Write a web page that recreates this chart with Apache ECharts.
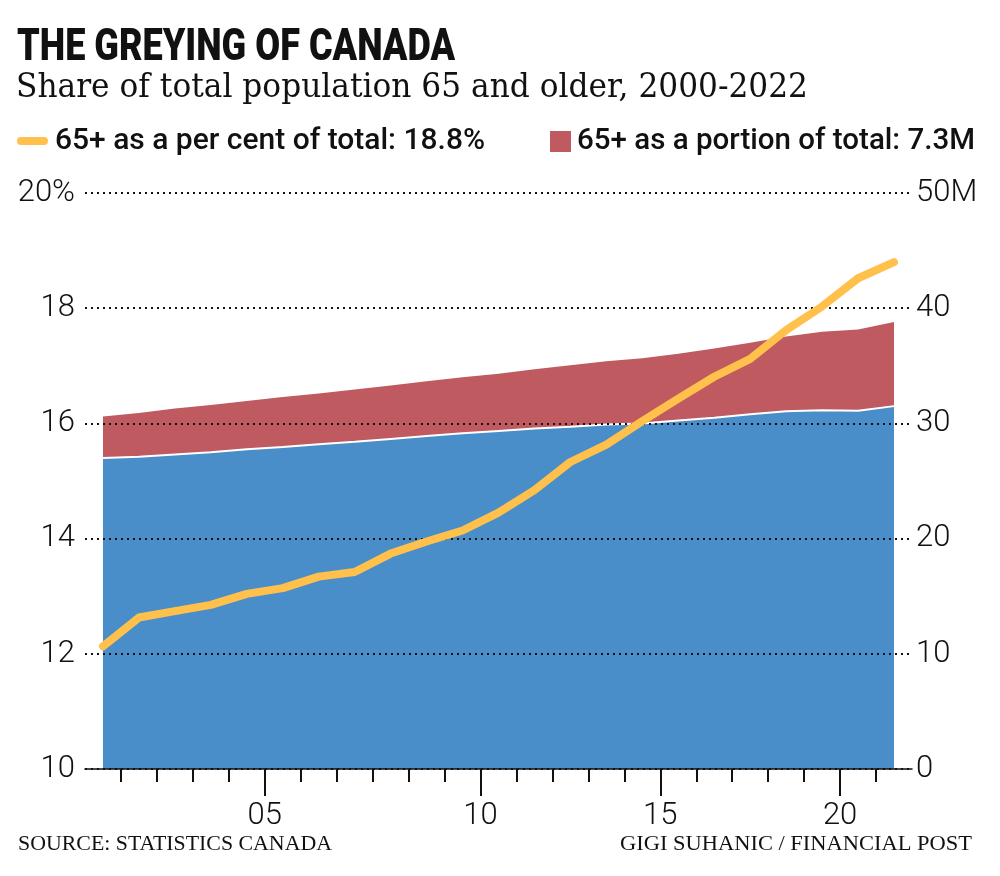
<!DOCTYPE html>
<html>
<head>
<meta charset="utf-8">
<script src="https://cdn.jsdelivr.net/npm/echarts@6/dist/echarts.min.js"></script>
<style>
html,body{margin:0;padding:0;background:#fff;}
#chart{width:1000px;height:876px;}
</style>
</head>
<body>
<div id="chart"></div>
<script>
// ---- data ----
const years = ['2000','2001','2002','2003','2004','2005','2006','2007','2008','2009','2010','2011','2012','2013','2014','2015','2016','2017','2018','2019','2020','2021','2022'];
// 65+ as a per cent of total population (left axis, %)
const pct65 = [12.13,12.63,12.74,12.85,13.04,13.14,13.34,13.42,13.74,13.95,14.14,14.45,14.84,15.33,15.63,16.04,16.43,16.81,17.12,17.62,18.03,18.52,18.80];
// population under 65 (millions, right axis)
const under65 = [27.0,27.1,27.3,27.5,27.75,27.95,28.2,28.4,28.65,28.9,29.15,29.35,29.55,29.7,29.9,30.0,30.25,30.5,30.8,31.05,31.15,31.1,31.5];
// population 65 and older (millions, stacked on top)
const over65 = [3.6,3.8,4.0,4.1,4.2,4.35,4.4,4.55,4.65,4.75,4.85,4.95,5.15,5.35,5.5,5.65,5.8,6.0,6.2,6.5,6.8,7.05,7.3];
// tick marks on the time scale (value axis 2000..2023, one band per year), as placed in the original
const minorTickPos = [2001,2002,2003,2004,2005,2006,2007,2008,2009,2010,2011,2012,2013,2014,2015,2016,2017,2018,2019,2020,2021,2022];
const majorTickPos = [2005,2011,2016,2021];
const xTickLabels = ['05','10','15','20'];

const BLUE = '#4a8ec9', RED = '#be5a60', YELLOW = '#ffc04c';
const LABEL_FONT = 'Roboto';
const SANS = 'Roboto, "Noto Sans", sans-serif';
const SERIF = '"DejaVu Serif","Liberation Serif",serif';

// horizontal squeeze so condensed newspaper type keeps its width
const measureCtx = document.createElement('canvas').getContext('2d');
function fitScale(text, font, width) {
  measureCtx.font = font;
  return width / measureCtx.measureText(text).width;
}
function txt(text, font, x, y, width, align) {
  const s = fitScale(text, font, width);
  return {type: 'text', x: x, y: y, scaleX: s, z: 10,
    style: {text: text, font: font, fill: '#111', align: align || 'left', verticalAlign: 'middle'}};
}

const chart = echarts.init(document.getElementById('chart'), null, {renderer: 'canvas'});
chart.setOption({
  animation: false,
  backgroundColor: '#fff',
  grid: {left: 85, right: 88, top: 193, bottom: 107, containLabel: false},
  xAxis: [
    {
      type: 'category', data: years, boundaryGap: true, position: 'bottom', show: false
    },
    {
      type: 'value', min: 2000, max: 2023, position: 'bottom', z: 4,
      axisLine: {show: true, lineStyle: {color: '#111', width: 1.5}},
      axisTick: {show: true, customValues: minorTickPos, length: 13, lineStyle: {color: '#111', width: 2}},
      axisLabel: {show: false},
      splitLine: {show: false}
    },
    {
      type: 'value', min: 2000, max: 2023, position: 'bottom', offset: 0, z: 4,
      axisLine: {show: false},
      axisTick: {show: true, customValues: majorTickPos, length: 27, lineStyle: {color: '#111', width: 2}},
      axisLabel: {
        show: true, customValues: majorTickPos, margin: 32,
        formatter: v => xTickLabels[majorTickPos.indexOf(v)],
        fontFamily: LABEL_FONT, fontWeight: 300, fontSize: 31, color: '#111'
      },
      splitLine: {show: false}
    }
  ],
  yAxis: [
    {
      type: 'value', min: 10, max: 20, interval: 2, position: 'left', z: 3,
      axisLine: {show: false}, axisTick: {show: false},
      axisLabel: {
        margin: 10, formatter: v => v === 20 ? '20%' : String(v),
        fontFamily: LABEL_FONT, fontWeight: 300, fontSize: 31, color: '#111'
      },
      splitLine: {show: true, lineStyle: {color: '#111', width: 2, type: [2, 4]}}
    },
    {
      type: 'value', min: 0, max: 50, interval: 10, position: 'right', z: 3,
      axisLine: {show: false}, axisTick: {show: false},
      axisLabel: {
        margin: 4, formatter: v => v === 50 ? '50M' : String(v),
        fontFamily: LABEL_FONT, fontWeight: 300, fontSize: 31, color: '#111'
      },
      splitLine: {show: false}
    }
  ],
  series: [
    {
      name: 'Under 65', type: 'line', xAxisIndex: 0, yAxisIndex: 1, stack: 'pop',
      data: under65, symbol: 'none', z: 2,
      lineStyle: {color: '#fff', width: 2},
      areaStyle: {color: BLUE, opacity: 1}
    },
    {
      name: '65+ as a portion of total', type: 'line', xAxisIndex: 0, yAxisIndex: 1, stack: 'pop',
      data: over65, symbol: 'none', z: 1,
      lineStyle: {width: 0, color: RED},
      areaStyle: {color: RED, opacity: 1}
    },
    {
      name: '65+ as a per cent of total', type: 'line', xAxisIndex: 0, yAxisIndex: 0,
      data: pct65, symbol: 'none', z: 6,
      lineStyle: {color: YELLOW, width: 8, cap: 'round', join: 'round'}
    }
  ],
  graphic: [
    txt('THE GREYING OF CANADA', '900 44px ' + SANS, 17, 49, 438),
    txt('Share of total population 65 and older, 2000-2022', '33px ' + SERIF, 16, 88, 792),
    {type: 'line', shape: {x1: 21, y1: 141, x2: 44, y2: 141}, style: {stroke: YELLOW, lineWidth: 8, lineCap: 'round'}},
    txt('65+ as a per cent of total: 18.8%', '500 29px ' + SANS, 55, 142, 430),
    {type: 'rect', shape: {x: 550, y: 131, width: 21, height: 21}, style: {fill: RED}},
    txt('65+ as a portion of total: 7.3M', '500 29px ' + SANS, 577, 142, 398),
    txt('SOURCE: STATISTICS CANADA', '21px "Liberation Serif",serif', 18, 844, 314),
    txt('GIGI SUHANIC / FINANCIAL POST', '21px "Liberation Serif",serif', 620, 844, 352)
  ]
});
</script>
</body>
</html>
